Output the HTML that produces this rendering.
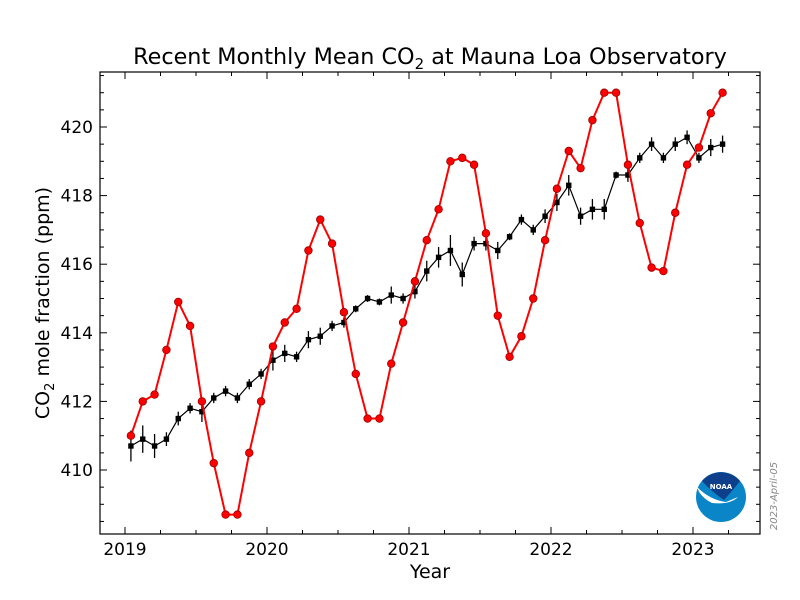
<!DOCTYPE html>
<html><head><meta charset="utf-8"><style>body{margin:0;background:#fff}svg{display:block;font-family:"DejaVu Sans","Liberation Sans",sans-serif}</style></head>
<body>
<svg id="chart" width="800" height="600"></svg>
<script>
const monthlyMean=[411.0,412.0,412.2,413.5,414.9,414.2,412.0,410.2,408.7,408.7,410.5,412.0,
413.6,414.3,414.7,416.4,417.3,416.6,414.6,412.8,411.5,411.5,413.1,414.3,
415.5,416.7,417.6,419.0,419.1,418.9,416.9,414.5,413.3,413.9,415.0,416.7,
418.2,419.3,418.8,420.2,421.0,421.0,418.9,417.2,415.9,415.8,417.5,418.9,
419.4,420.4,421.0];
const deseason=[410.7,410.9,410.7,410.9,411.5,411.8,411.7,412.1,412.3,412.1,412.5,412.8,
413.2,413.4,413.3,413.8,413.9,414.2,414.3,414.7,415.0,414.9,415.1,415.0,
415.2,415.8,416.2,416.4,415.7,416.6,416.6,416.4,416.8,417.3,417.0,417.4,
417.8,418.3,417.4,417.6,417.6,418.6,418.6,419.1,419.5,419.1,419.5,419.7,
419.1,419.4,419.5];
const errBars=[0.45,0.4,0.35,0.2,0.2,0.15,0.3,0.15,0.15,0.15,0.15,0.15,
0.3,0.25,0.15,0.25,0.25,0.15,0.15,0.1,0.1,0.1,0.25,0.15,
0.2,0.3,0.3,0.45,0.35,0.2,0.2,0.25,0.1,0.15,0.15,0.2,
0.25,0.3,0.25,0.3,0.3,0.1,0.2,0.15,0.2,0.15,0.2,0.2,
0.15,0.25,0.25];
const startYear=2019;
const xTicks=[2019,2020,2021,2022,2023];
const yTicks=[410,412,414,416,418,420];
const L=100,R=760,T=72,B=534;
const X=t=>125+(t-2019)*142;
const Y=v=>470-(v-410)*34.3;
const NS='http://www.w3.org/2000/svg';
const svg=document.getElementById('chart');
function mk(tag,attrs,parent){const e=document.createElementNS(NS,tag);for(const k in attrs)e.setAttribute(k,attrs[k]);(parent||svg).appendChild(e);return e;}
const axes=mk('g',{});


for(let t=2018.75;t<=2023.5;t+=0.25){const x=X(t);if(x<L||x>R)continue;const maj=Math.abs(t-Math.round(t))<1e-6;const len=maj?7:4;
mk('line',{x1:x,y1:B,x2:x,y2:B-len,stroke:'#000','stroke-width':1},axes);mk('line',{x1:x,y1:T,x2:x,y2:T+len,stroke:'#000','stroke-width':1},axes);}
for(let v=408.5;v<=421.5;v+=0.5){const y=Y(v);if(y<T||y>B)continue;const maj=Math.abs(v/2-Math.round(v/2))<1e-6;const len=maj?7:4;
mk('line',{x1:L,y1:y,x2:L+len,y2:y,stroke:'#000','stroke-width':1},axes);mk('line',{x1:R,y1:y,x2:R-len,y2:y,stroke:'#000','stroke-width':1},axes);}
xTicks.forEach(t=>{const e=mk('text',{x:X(t),y:555,'font-size':17,'text-anchor':'middle'},axes);e.textContent=t;});
yTicks.forEach(v=>{const e=mk('text',{x:93,y:Y(v)+6,'font-size':17,'text-anchor':'end'},axes);e.textContent=v;});
const tm=i=>startYear+(i+0.5)/12;
const g2=mk('g',{});


mk('polyline',{points:deseason.map((v,i)=>X(tm(i))+','+Y(v)).join(' '),fill:'none',stroke:'#000','stroke-width':1.2},g2);
deseason.forEach((v,i)=>{const x=X(tm(i));mk('line',{x1:x,x2:x,y1:Y(v-errBars[i]),y2:Y(v+errBars[i]),stroke:'#000','stroke-width':1.3},g2);
const r=mk('rect',{x:x-2.7,y:Y(v)-2.7,width:5.4,height:5.4,fill:'#000'},g2);});
const g1=mk('g',{});


mk('polyline',{points:monthlyMean.map((v,i)=>X(tm(i))+','+Y(v)).join(' '),fill:'none',stroke:'#f00','stroke-width':2},g1);
monthlyMean.forEach((v,i)=>{const c=mk('circle',{cx:X(tm(i)),cy:Y(v),r:3.8,fill:'#f00',stroke:'#900','stroke-width':0.8},g1);});
const fr=mk('rect',{x:L,y:T,width:R-L,height:B-T,fill:'none',stroke:'#000','stroke-width':1.2});


</script>
<svg width="800" height="600" style="position:absolute;left:0;top:0">
<text x="430" y="64" font-size="22.3" text-anchor="middle">Recent Monthly Mean CO<tspan font-size="15" dy="5">2</tspan><tspan dy="-5"> at Mauna Loa Observatory</tspan></text>
<text x="430" y="578" font-size="19" text-anchor="middle">Year</text>
<text transform="translate(49,303) rotate(-90)" font-size="19" text-anchor="middle">CO<tspan font-size="13" dy="5">2</tspan><tspan dy="-5"> mole fraction (ppm)</tspan></text>
<text transform="translate(777,496) rotate(-90)" font-size="10" fill="#888" font-style="italic" text-anchor="middle">2023-April-05</text>
<g>
<circle cx="721" cy="497" r="25" fill="#0a86c8"/>
<path d="M702,481 A25,25 0 0 1 740,481 Q733,490 724,500 Q712,492 702,481Z" fill="#0e3f8a"/>
<path d="M697,487 Q710,500 726,502 L738,497 Q730,505 712,503 Q700,497 697,487Z" fill="#fff"/>
<text x="721" y="489" font-size="7" font-weight="bold" fill="#fff" text-anchor="middle">NOAA</text>
</g>
</svg>
</body></html>
